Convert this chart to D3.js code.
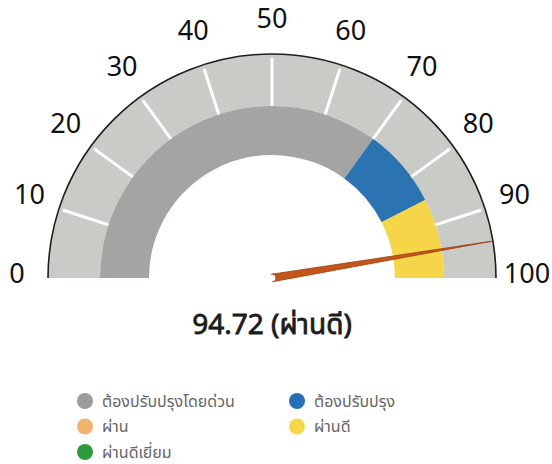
<!DOCTYPE html>
<html lang="th">
<head>
<meta charset="UTF-8">
<title>Gauge</title>
<script src="https://cdn.jsdelivr.net/npm/d3@7"></script>
<style>
  body { margin: 0; background: #fff; }
  text { font-family: "Noto Sans Thai", "Noto Sans", "DejaVu Sans", sans-serif; }
</style>
</head>
<body>
<div id="chart"></div>
<script>
// gauge data
const tickValues = [0, 10, 20, 30, 40, 50, 60, 70, 80, 90, 100];
const bandNames = ["ต้องปรับปรุงโดยด่วน", "ต้องปรับปรุง", "ผ่านดี"];
const bandFrom = [0, 70, 85];
const bandTo = [70, 85, 100];
const bandColors = ["#a3a5a2", "#2c74b1", "#f6d548"];
const score = 94.72;
const scoreLabel = "ผ่านดี";

// legend
const legendLabels = ["ต้องปรับปรุงโดยด่วน", "ต้องปรับปรุง", "ผ่าน", "ผ่านดี", "ผ่านดีเยี่ยม"];
const legendColors = ["#9b9d9b", "#2670b5", "#f1b46e", "#f7d74a", "#2f9a3b"];

const W = 552, H = 464;
const cx = 272, cy = 278;
const rOuter = 224, rMid = 172, rInner = 123;

const svg = d3.select("#chart").append("svg")
  .attr("width", W).attr("height", H);

const g = svg.append("g").attr("transform", `translate(${cx},${cy})`);

const angle = d3.scaleLinear().domain([0, 100]).range([-Math.PI / 2, Math.PI / 2]);
const pt = (v, r) => [r * Math.sin(angle(v)), -r * Math.cos(angle(v))];

// outer light band
g.append("path")
  .attr("d", d3.arc()({ innerRadius: rMid, outerRadius: rOuter, startAngle: angle(0), endAngle: angle(100) }))
  .attr("fill", "#c9cbc6");

// coloured inner bands
g.selectAll(".band")
  .data(bandNames)
  .join("path")
  .attr("class", "band")
  .attr("d", (d, i) => d3.arc()({ innerRadius: rInner, outerRadius: rMid, startAngle: angle(bandFrom[i]), endAngle: angle(bandTo[i]) }))
  .attr("fill", (d, i) => bandColors[i]);

// outer black rim
g.append("path")
  .attr("d", d3.arc()({ innerRadius: rOuter, outerRadius: rOuter, startAngle: angle(0), endAngle: angle(100) }))
  .attr("fill", "none")
  .attr("stroke", "#1e1e1e")
  .attr("stroke-width", 1.6);

// white tick marks
g.selectAll(".tick")
  .data(tickValues.slice(1, -1))
  .join("line")
  .attr("class", "tick")
  .attr("x1", d => pt(d, rMid)[0]).attr("y1", d => pt(d, rMid)[1])
  .attr("x2", d => pt(d, rOuter - 4)[0]).attr("y2", d => pt(d, rOuter - 4)[1])
  .attr("stroke", "#fff")
  .attr("stroke-width", 3);

// tick labels
g.selectAll(".lbl")
  .data(tickValues)
  .join("text")
  .attr("class", "lbl")
  .attr("x", d => pt(d, 255)[0])
  .attr("y", d => pt(d, 255)[1] - 4)
  .attr("text-anchor", "middle")
  .attr("dominant-baseline", "central")
  .attr("font-size", 27)
  .attr("fill", "#111")
  .text(d => d);

// needle
const a = angle(score);
const tip = pt(score, rOuter);
const bw = 3.8;
const nx = Math.cos(a), ny = Math.sin(a);
const needle = d3.path();
needle.moveTo(bw * nx, bw * ny);
needle.lineTo(tip[0], tip[1]);
needle.lineTo(-bw * nx, -bw * ny);
needle.arc(0, 0, bw, a + Math.PI, a + Math.PI * 2, false);
needle.closePath();
g.append("path")
  .attr("d", needle.toString())
  .attr("fill", "#c4561c")
  .attr("stroke", "#9c3d12")
  .attr("stroke-width", 0.8);

// value text (a thin stroke gives it the medium weight of the original)
svg.append("text")
  .attr("x", cx)
  .attr("y", 334)
  .attr("text-anchor", "middle")
  .attr("font-size", 28)
  .attr("fill", "#1c1c1c")
  .attr("stroke", "#1c1c1c")
  .attr("stroke-width", 0.8)
  .text(`${score} (${scoreLabel})`);

// legend, two columns
const leg = svg.selectAll(".leg")
  .data(legendLabels)
  .join("g")
  .attr("class", "leg")
  .attr("transform", (d, i) => `translate(${i % 2 ? 297 : 85},${401 + Math.floor(i / 2) * 25.5})`);

leg.append("circle")
  .attr("r", 8)
  .attr("fill", (d, i) => legendColors[i]);

leg.append("text")
  .attr("x", 17)
  .attr("dy", "0.35em")
  .attr("font-size", 16)
  .attr("fill", "#666")
  .text(d => d);
</script>
</body>
</html>
